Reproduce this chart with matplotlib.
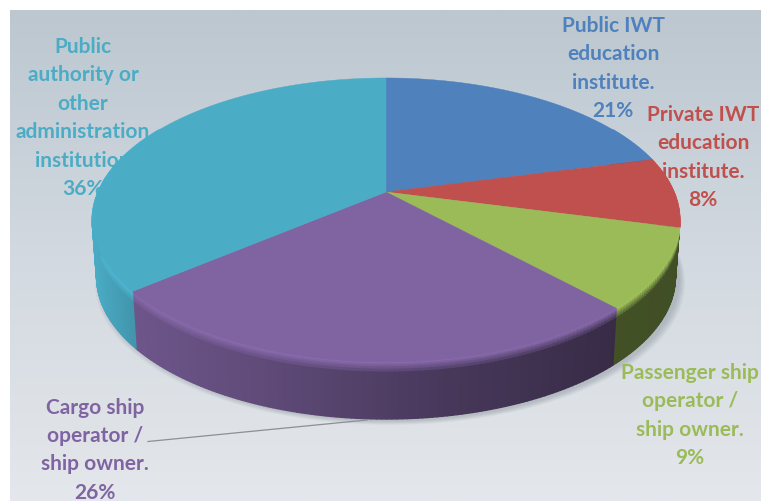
#!/usr/bin/env python3
# Perspective 3D pie of respondent groups, drawn from polygons in pixel space.

import numpy as np
import matplotlib
matplotlib.use('Agg')
import matplotlib.pyplot as plt
from matplotlib.collections import PolyCollection
from matplotlib.colors import to_rgb
from matplotlib.patches import Polygon


CATEGORIES = [
    ['Public IWT', 'education', 'institute.'],
    ['Private IWT', 'education', 'institute.'],
    ['Passenger ship', 'operator /', 'ship owner.'],
    ['Cargo ship', 'operator /', 'ship owner.'],
    ['Public', 'authority or', 'other', 'administration', 'institution'],
]
SHARES = [21, 8, 9, 26, 36]
COLORS = ['#4F81BD', '#C0504D', '#9BBB59', '#8064A2', '#4BACC6']

# centre x and baseline y of the first line of each label
LABEL_POS = [(613, 32), (703, 121), (690, 379), (95, 413.5), (83, 53)]
LINE_STEP = 28.4

WIDTH, HEIGHT = 761, 501

# projection of the unit disc onto the page
CX, CY = 386, 192
PROJ_A = 288.0
PROJ_B = 136.5
PROJ_K = 0.197
DEPTH = 57
LOWER_SCALE = 0.985


def project(theta, scale=1.0, drop=0.0):
    # theta runs clockwise from 12 o'clock
    u = np.sin(theta)
    v = np.cos(theta)
    denom = 1 + PROJ_K * v
    x = CX + scale * PROJ_A * u / denom
    y = CY + drop - PROJ_B * v / denom
    return x, y


def wallShade(x, color):
    # side wall darkens towards the right
    t = (x - 90) / 590.0
    factor = np.interp(t, [0.0, 0.08, 0.3, 0.6, 0.9, 1.0], [1.0, 0.85, 0.74, 0.56, 0.43, 0.42])
    return np.array(color) * factor


def drawWalls(ax, edges):
    polys = []
    faces = []
    bands = np.array([0, 0.03, 0.06, 0.09, 0.13, 0.18, 1.0])
    for i, color in enumerate(COLORS):
        rgb = to_rgb(color)
        lo = max(edges[i], np.radians(60))
        hi = min(edges[i + 1], np.radians(300))
        if hi <= lo:
            continue
        thetas = np.linspace(lo, hi, max(3, int((hi - lo) * 70)))
        for t0, t1 in zip(thetas[:-1], thetas[1:]):
            x0a, y0a = project(t0)
            x1a, y1a = project(t1)
            x0b, y0b = project(t0, LOWER_SCALE, DEPTH)
            x1b, y1b = project(t1, LOWER_SCALE, DEPTH)
            dark = wallShade((x0a + x1a) / 2, rgb)
            for s0, s1 in zip(bands[:-1], bands[1:]):
                polys.append([
                    (x0a + (x0b - x0a) * s0, y0a + (y0b - y0a) * s0),
                    (x1a + (x1b - x1a) * s0, y1a + (y1b - y1a) * s0),
                    (x1a + (x1b - x1a) * s1, y1a + (y1b - y1a) * s1),
                    (x0a + (x0b - x0a) * s1, y0a + (y0b - y0a) * s1),
                ])
                # soft bevel between the top face and the wall
                mix = min(s0 / 0.18, 1.0)
                light = np.minimum(np.array(rgb) * 1.08, 1.0)
                faces.append(tuple(light * (1 - mix) + dark * mix))
    walls = PolyCollection(polys, facecolors=faces, edgecolors=faces, linewidths=1.0, zorder=3)
    ax.add_collection(walls)


def drawShadow(ax):
    thetas = np.linspace(0, 2 * np.pi, 240)
    for grow in np.linspace(1.02, 1.0, 8):
        x, y = project(thetas, LOWER_SCALE * grow, DEPTH)
        ax.add_patch(Polygon(np.column_stack([x + 4, y + 2 + (grow - 1) * 200]), closed=True,
                             facecolor='#5a6470', edgecolor='none', alpha=0.04, zorder=2))


def drawTop(ax, edges):
    for i, color in enumerate(COLORS):
        thetas = np.linspace(edges[i], edges[i + 1], 120)
        x, y = project(thetas)
        pts = np.column_stack([np.r_[CX, x], np.r_[CY, y]])
        ax.add_patch(Polygon(pts, closed=True, facecolor=color, edgecolor=color,
                             linewidth=0.3, zorder=4))


def drawLabels(ax):
    for lines, share, color, pos in zip(CATEGORIES, SHARES, COLORS, LABEL_POS):
        rows = lines + [f'{share}%']
        for j, row in enumerate(rows):
            ax.text(pos[0], pos[1] + j * LINE_STEP, row, color=color, fontsize=15.0,
                    fontweight='bold', family='Lato', ha='center', va='baseline', zorder=6)


def run():
    fig = plt.figure(figsize=(WIDTH / 100, HEIGHT / 100), dpi=100, facecolor='white')
    ax = fig.add_axes([0, 0, 1, 1])
    ax.set_xlim(0, WIDTH)
    ax.set_ylim(HEIGHT, 0)
    ax.axis('off')

    # backdrop gets lighter towards the bottom
    top = np.array([188, 199, 208]) / 255
    mid = np.array([210, 217, 224]) / 255
    bottom = np.array([228, 231, 235]) / 255
    s = np.linspace(0, 1, 256)[:, None]
    grad = np.where(s < 0.5, top + (mid - top) * s * 2, mid + (bottom - mid) * (s - 0.5) * 2)
    ax.imshow(grad[:, None, :], extent=(10, WIDTH, HEIGHT, 10), aspect='auto', zorder=1)
    ax.set_xlim(0, WIDTH)
    ax.set_ylim(HEIGHT, 0)

    edges = np.radians(np.r_[0, np.cumsum(SHARES)] * 3.6)
    drawShadow(ax)
    drawWalls(ax, edges)
    drawTop(ax, edges)

    # leader for the cargo ship label
    ax.plot([148, 367], [441.5, 420], color='#8a9096', linewidth=0.9, zorder=5)
    drawLabels(ax)

    fig.savefig('out.png', dpi=100)


if __name__ == '__main__':
    run()
